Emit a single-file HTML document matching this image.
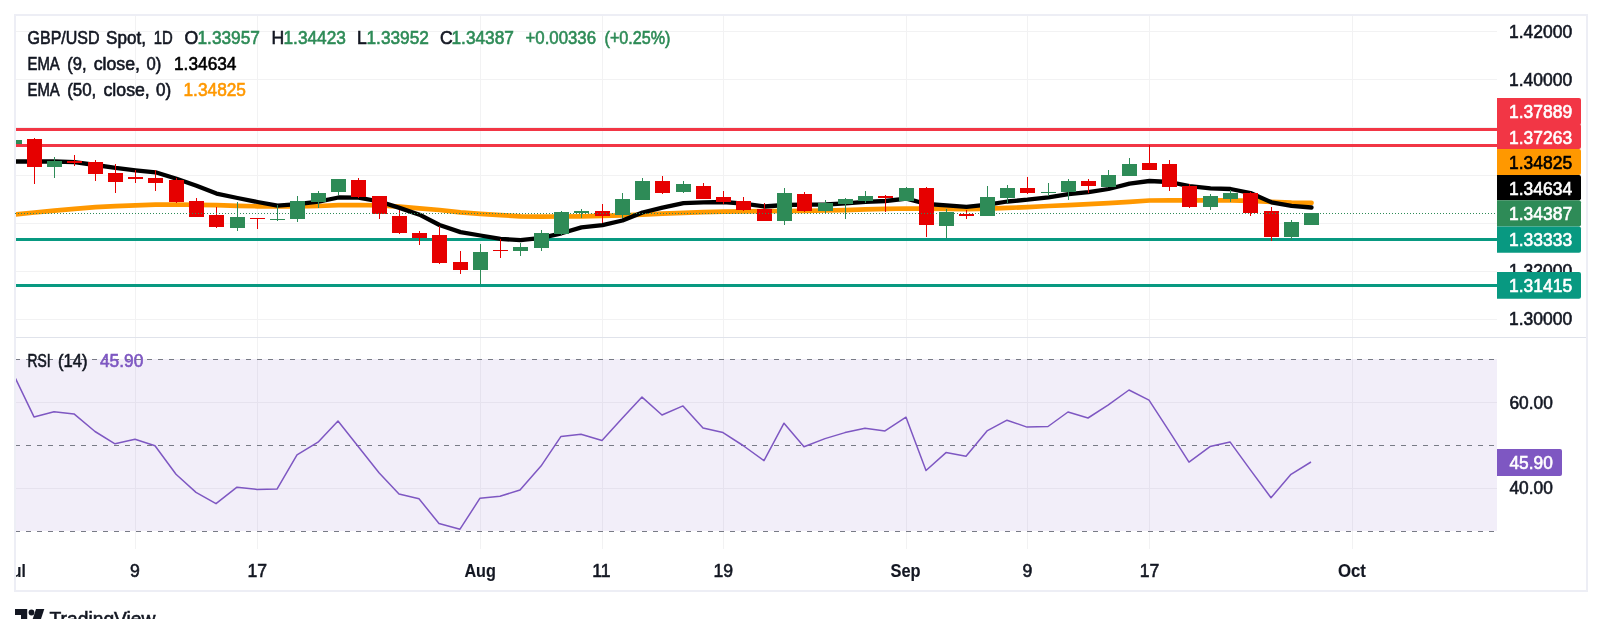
<!DOCTYPE html>
<html><head><meta charset="utf-8"><title>GBP/USD chart</title>
<style>html,body{margin:0;padding:0;background:#fff;overflow:hidden}body{width:1602px;height:619px;font-family:"Liberation Sans",sans-serif}</style></head>
<body>
<svg width="1602" height="619" viewBox="0 0 1602 619" style="display:block;will-change:transform">
<defs><clipPath id="cp"><rect x="16" y="16" width="1481" height="321"/></clipPath><clipPath id="cr"><rect x="16" y="338" width="1481" height="211"/></clipPath></defs>
<rect width="1602" height="619" fill="#fff"/>
<rect x="15" y="15" width="1572" height="576" fill="#fff" stroke="#edeef5" stroke-width="2"/>
<rect x="16" y="337" width="1570" height="1" fill="#e0e3eb"/>
<rect x="16" y="359" width="1481" height="172" fill="#f2eef9"/>
<rect x="135" y="16" width="1" height="321" fill="#f2f2f3"/>
<rect x="135" y="338" width="1" height="211" fill="#e6e2ee"/>
<rect x="135" y="338" width="1" height="21" fill="#f2f2f3"/>
<rect x="135" y="531" width="1" height="18" fill="#f2f2f3"/>
<rect x="257" y="16" width="1" height="321" fill="#f2f2f3"/>
<rect x="257" y="338" width="1" height="211" fill="#e6e2ee"/>
<rect x="257" y="338" width="1" height="21" fill="#f2f2f3"/>
<rect x="257" y="531" width="1" height="18" fill="#f2f2f3"/>
<rect x="480" y="16" width="1" height="321" fill="#f2f2f3"/>
<rect x="480" y="338" width="1" height="211" fill="#e6e2ee"/>
<rect x="480" y="338" width="1" height="21" fill="#f2f2f3"/>
<rect x="480" y="531" width="1" height="18" fill="#f2f2f3"/>
<rect x="602" y="16" width="1" height="321" fill="#f2f2f3"/>
<rect x="602" y="338" width="1" height="211" fill="#e6e2ee"/>
<rect x="602" y="338" width="1" height="21" fill="#f2f2f3"/>
<rect x="602" y="531" width="1" height="18" fill="#f2f2f3"/>
<rect x="723" y="16" width="1" height="321" fill="#f2f2f3"/>
<rect x="723" y="338" width="1" height="211" fill="#e6e2ee"/>
<rect x="723" y="338" width="1" height="21" fill="#f2f2f3"/>
<rect x="723" y="531" width="1" height="18" fill="#f2f2f3"/>
<rect x="906" y="16" width="1" height="321" fill="#f2f2f3"/>
<rect x="906" y="338" width="1" height="211" fill="#e6e2ee"/>
<rect x="906" y="338" width="1" height="21" fill="#f2f2f3"/>
<rect x="906" y="531" width="1" height="18" fill="#f2f2f3"/>
<rect x="1027" y="16" width="1" height="321" fill="#f2f2f3"/>
<rect x="1027" y="338" width="1" height="211" fill="#e6e2ee"/>
<rect x="1027" y="338" width="1" height="21" fill="#f2f2f3"/>
<rect x="1027" y="531" width="1" height="18" fill="#f2f2f3"/>
<rect x="1149" y="16" width="1" height="321" fill="#f2f2f3"/>
<rect x="1149" y="338" width="1" height="211" fill="#e6e2ee"/>
<rect x="1149" y="338" width="1" height="21" fill="#f2f2f3"/>
<rect x="1149" y="531" width="1" height="18" fill="#f2f2f3"/>
<rect x="1352" y="16" width="1" height="321" fill="#f2f2f3"/>
<rect x="1352" y="338" width="1" height="211" fill="#e6e2ee"/>
<rect x="1352" y="338" width="1" height="21" fill="#f2f2f3"/>
<rect x="1352" y="531" width="1" height="18" fill="#f2f2f3"/>
<rect x="16" y="31" width="1481" height="1" fill="#f2f2f3"/>
<rect x="16" y="79" width="1481" height="1" fill="#f2f2f3"/>
<rect x="16" y="127" width="1481" height="1" fill="#f2f2f3"/>
<rect x="16" y="175" width="1481" height="1" fill="#f2f2f3"/>
<rect x="16" y="223" width="1481" height="1" fill="#f2f2f3"/>
<rect x="16" y="271" width="1481" height="1" fill="#f2f2f3"/>
<rect x="16" y="319" width="1481" height="1" fill="#f2f2f3"/>
<rect x="16" y="402" width="1481" height="1" fill="#e6e2ee"/>
<rect x="16" y="488" width="1481" height="1" fill="#e6e2ee"/>
<line clip-path="url(#cr)" x1="15" x2="1497" y1="359.5" y2="359.5" stroke="#787b86" stroke-width="1" stroke-dasharray="5 6" shape-rendering="crispEdges"/>
<line clip-path="url(#cr)" x1="15" x2="1497" y1="445.5" y2="445.5" stroke="#787b86" stroke-width="1" stroke-dasharray="5 6" shape-rendering="crispEdges"/>
<line clip-path="url(#cr)" x1="15" x2="1497" y1="531.5" y2="531.5" stroke="#787b86" stroke-width="1" stroke-dasharray="5 6" shape-rendering="crispEdges"/>
<polyline clip-path="url(#cr)" points="14.0,375.4 34.0,416.9 54.0,411.7 74.0,413.9 95.0,431.5 115.0,443.8 135.0,439.2 155.0,445.7 176.0,474.3 196.0,492.4 216.0,503.7 237.0,487.2 257.0,489.4 277.0,489.1 297.0,454.8 318.0,442.2 338.0,421 358.0,446.3 379.0,472.7 399.0,494.1 419.0,498.8 439.0,523.5 460.0,529.2 480.0,498.2 500.0,496.3 520.0,490 541.0,466.1 561.0,436.4 581.0,434.2 602.0,440.5 622.0,418.6 642.0,397.1 662.0,415 683.0,405.9 703.0,427.9 723.0,432.6 743.0,445.5 764.0,460.6 784.0,423.2 804.0,446.7 825.0,438.6 845.0,432.6 865.0,428.2 885.0,430.9 906.0,417.2 926.0,470.5 946.0,452.6 966.0,456.2 987.0,430.9 1007.0,420.2 1027.0,427.1 1048.0,426.5 1068.0,412 1088.0,418 1108.0,405.1 1129.0,390 1149.0,400.2 1169.0,430.9 1189.0,462.2 1210.0,446.6 1230.0,441.9 1250.0,469.4 1271.0,497.7 1291.0,474.3 1311.0,462" fill="none" stroke="#7e57c2" stroke-width="1.5" stroke-linejoin="round"/>
<g clip-path="url(#cp)">
<rect x="16" y="128" width="1481" height="3" fill="#f23645"/>
<rect x="16" y="144" width="1481" height="3" fill="#f23645"/>
<rect x="16" y="238" width="1481" height="3" fill="#089981"/>
<rect x="16" y="284" width="1481" height="3" fill="#089981"/>
<polyline points="14.5,214.6 34.5,212.5 54.5,210.6 74.5,208.8 95.5,207.1 115.5,206.1 135.5,205.3 155.5,204.7 176.5,204.5 196.5,204.8 216.5,205.2 237.5,205.8 257.5,206.3 277.5,206.5 297.5,206.3 318.5,206 338.5,205.2 358.5,205 379.5,205.4 399.5,206.6 419.5,208.3 439.5,210 460.5,212.4 480.5,213.8 500.5,215.2 520.5,216.3 541.5,216.6 561.5,216.5 581.5,216.3 602.5,215.9 622.5,215.3 642.5,214.6 662.5,213.7 683.5,212.8 703.5,212.2 723.5,211.6 743.5,211.4 764.5,211.2 784.5,211 804.5,210.8 825.5,210.5 845.5,210.1 865.5,209.4 885.5,208.9 906.5,208.5 926.5,208.6 946.5,209 966.5,209.2 987.5,208.7 1007.5,207.9 1027.5,207.1 1048.5,206 1068.5,205.2 1088.5,204.2 1108.5,203.2 1129.5,201.8 1149.5,200.5 1169.5,200.4 1189.5,200.4 1210.5,200.4 1230.5,200.4 1250.5,200.8 1271.5,201.8 1291.5,202.6 1311.5,202.9" fill="none" stroke="#ff9800" stroke-width="4.7" stroke-linejoin="round" stroke-linecap="round"/>
<polyline points="14.5,161.5 34.5,161.5 54.5,161.5 74.5,162.1 95.5,165 115.5,167.9 135.5,170.3 155.5,172.3 176.5,178.8 196.5,185.8 216.5,193.6 237.5,198 257.5,202 277.5,205.7 297.5,204.2 318.5,201.6 338.5,197.5 358.5,197.6 379.5,201.5 399.5,207.9 419.5,214.7 439.5,225 460.5,232.1 480.5,235.5 500.5,238.9 520.5,240.2 541.5,237.8 561.5,233.3 581.5,227.4 602.5,225.2 622.5,220.5 642.5,212.5 662.5,207.6 683.5,203.2 703.5,202.4 723.5,202 743.5,203.6 764.5,206.5 784.5,205 804.5,204.7 825.5,204.5 845.5,203.4 865.5,201.8 885.5,201 906.5,198.7 926.5,204 946.5,205.4 966.5,206.8 987.5,204.6 1007.5,201.5 1027.5,199.7 1048.5,197.3 1068.5,194.2 1088.5,192.2 1108.5,189 1129.5,183.6 1149.5,181 1169.5,182 1189.5,186.2 1210.5,188.4 1230.5,189 1250.5,193 1271.5,202.3 1291.5,205.9 1311.5,207.5" fill="none" stroke="#000" stroke-width="4.3" stroke-linejoin="round" stroke-linecap="round"/>
<rect x="14" y="140" width="1" height="4" fill="#2e8b57"/>
<rect x="7" y="140" width="15" height="4" fill="#2e8b57"/>
<rect x="34" y="138" width="1" height="46" fill="#e60000"/>
<rect x="27" y="139" width="15" height="28" fill="#e60000"/>
<rect x="54" y="157" width="1" height="21" fill="#2e8b57"/>
<rect x="47" y="161" width="15" height="6" fill="#2e8b57"/>
<rect x="74" y="155" width="1" height="11" fill="#e60000"/>
<rect x="67" y="161" width="15" height="2" fill="#e60000"/>
<rect x="95" y="160" width="1" height="21" fill="#e60000"/>
<rect x="88" y="162" width="15" height="12" fill="#e60000"/>
<rect x="115" y="164" width="1" height="29" fill="#e60000"/>
<rect x="108" y="173" width="15" height="9" fill="#e60000"/>
<rect x="135" y="170" width="1" height="13" fill="#e60000"/>
<rect x="128" y="177" width="15" height="2" fill="#e60000"/>
<rect x="155" y="170" width="1" height="21" fill="#e60000"/>
<rect x="148" y="178" width="15" height="5" fill="#e60000"/>
<rect x="176" y="178" width="1" height="25" fill="#e60000"/>
<rect x="169" y="180" width="15" height="22" fill="#e60000"/>
<rect x="196" y="198" width="1" height="19" fill="#e60000"/>
<rect x="189" y="201" width="15" height="16" fill="#e60000"/>
<rect x="216" y="207" width="1" height="21" fill="#e60000"/>
<rect x="209" y="215" width="15" height="12" fill="#e60000"/>
<rect x="237" y="202" width="1" height="29" fill="#2e8b57"/>
<rect x="230" y="217" width="15" height="11" fill="#2e8b57"/>
<rect x="257" y="218" width="1" height="11" fill="#e60000"/>
<rect x="250" y="218" width="15" height="1" fill="#e60000"/>
<rect x="277" y="205" width="1" height="16" fill="#2e8b57"/>
<rect x="270" y="219" width="15" height="1" fill="#2e8b57"/>
<rect x="297" y="196" width="1" height="26" fill="#2e8b57"/>
<rect x="290" y="201" width="15" height="18" fill="#2e8b57"/>
<rect x="318" y="191" width="1" height="17" fill="#2e8b57"/>
<rect x="311" y="193" width="15" height="9" fill="#2e8b57"/>
<rect x="338" y="179" width="1" height="16" fill="#2e8b57"/>
<rect x="331" y="179" width="15" height="13" fill="#2e8b57"/>
<rect x="358" y="178" width="1" height="20" fill="#e60000"/>
<rect x="351" y="180" width="15" height="17" fill="#e60000"/>
<rect x="379" y="196" width="1" height="23" fill="#e60000"/>
<rect x="372" y="196" width="15" height="18" fill="#e60000"/>
<rect x="399" y="210" width="1" height="24" fill="#e60000"/>
<rect x="392" y="216" width="15" height="17" fill="#e60000"/>
<rect x="419" y="231" width="1" height="14" fill="#e60000"/>
<rect x="412" y="233" width="15" height="5" fill="#e60000"/>
<rect x="439" y="226" width="1" height="38" fill="#e60000"/>
<rect x="432" y="235" width="15" height="28" fill="#e60000"/>
<rect x="460" y="251" width="1" height="23" fill="#e60000"/>
<rect x="453" y="262" width="15" height="8" fill="#e60000"/>
<rect x="480" y="244" width="1" height="40" fill="#2e8b57"/>
<rect x="473" y="252" width="15" height="18" fill="#2e8b57"/>
<rect x="500" y="239" width="1" height="19" fill="#e60000"/>
<rect x="493" y="250" width="15" height="1" fill="#e60000"/>
<rect x="520" y="243" width="1" height="13" fill="#2e8b57"/>
<rect x="513" y="247" width="15" height="4" fill="#2e8b57"/>
<rect x="541" y="230" width="1" height="21" fill="#2e8b57"/>
<rect x="534" y="233" width="15" height="15" fill="#2e8b57"/>
<rect x="561" y="211" width="1" height="24" fill="#2e8b57"/>
<rect x="554" y="212" width="15" height="22" fill="#2e8b57"/>
<rect x="581" y="209" width="1" height="9" fill="#2e8b57"/>
<rect x="574" y="211" width="15" height="2" fill="#2e8b57"/>
<rect x="602" y="204" width="1" height="19" fill="#e60000"/>
<rect x="595" y="211" width="15" height="5" fill="#e60000"/>
<rect x="622" y="193" width="1" height="25" fill="#2e8b57"/>
<rect x="615" y="199" width="15" height="16" fill="#2e8b57"/>
<rect x="642" y="178" width="1" height="22" fill="#2e8b57"/>
<rect x="635" y="181" width="15" height="19" fill="#2e8b57"/>
<rect x="662" y="176" width="1" height="18" fill="#e60000"/>
<rect x="655" y="181" width="15" height="12" fill="#e60000"/>
<rect x="683" y="181" width="1" height="12" fill="#2e8b57"/>
<rect x="676" y="184" width="15" height="8" fill="#2e8b57"/>
<rect x="703" y="183" width="1" height="16" fill="#e60000"/>
<rect x="696" y="186" width="15" height="13" fill="#e60000"/>
<rect x="723" y="191" width="1" height="13" fill="#e60000"/>
<rect x="716" y="197" width="15" height="5" fill="#e60000"/>
<rect x="743" y="197" width="1" height="14" fill="#e60000"/>
<rect x="736" y="201" width="15" height="9" fill="#e60000"/>
<rect x="764" y="203" width="1" height="18" fill="#e60000"/>
<rect x="757" y="209" width="15" height="12" fill="#e60000"/>
<rect x="784" y="188" width="1" height="37" fill="#2e8b57"/>
<rect x="777" y="193" width="15" height="28" fill="#2e8b57"/>
<rect x="804" y="192" width="1" height="20" fill="#e60000"/>
<rect x="797" y="194" width="15" height="17" fill="#e60000"/>
<rect x="825" y="200" width="1" height="13" fill="#2e8b57"/>
<rect x="818" y="203" width="15" height="8" fill="#2e8b57"/>
<rect x="845" y="198" width="1" height="21" fill="#2e8b57"/>
<rect x="838" y="199" width="15" height="5" fill="#2e8b57"/>
<rect x="865" y="191" width="1" height="12" fill="#2e8b57"/>
<rect x="858" y="196" width="15" height="5" fill="#2e8b57"/>
<rect x="885" y="195" width="1" height="17" fill="#e60000"/>
<rect x="878" y="196" width="15" height="2" fill="#e60000"/>
<rect x="906" y="187" width="1" height="14" fill="#2e8b57"/>
<rect x="899" y="188" width="15" height="13" fill="#2e8b57"/>
<rect x="926" y="187" width="1" height="50" fill="#e60000"/>
<rect x="919" y="188" width="15" height="37" fill="#e60000"/>
<rect x="946" y="209" width="1" height="29" fill="#2e8b57"/>
<rect x="939" y="212" width="15" height="14" fill="#2e8b57"/>
<rect x="966" y="210" width="1" height="9" fill="#e60000"/>
<rect x="959" y="214" width="15" height="2" fill="#e60000"/>
<rect x="987" y="186" width="1" height="30" fill="#2e8b57"/>
<rect x="980" y="197" width="15" height="19" fill="#2e8b57"/>
<rect x="1007" y="185" width="1" height="18" fill="#2e8b57"/>
<rect x="1000" y="188" width="15" height="10" fill="#2e8b57"/>
<rect x="1027" y="177" width="1" height="17" fill="#e60000"/>
<rect x="1020" y="188" width="15" height="5" fill="#e60000"/>
<rect x="1048" y="183" width="1" height="13" fill="#2e8b57"/>
<rect x="1041" y="192" width="15" height="1" fill="#2e8b57"/>
<rect x="1068" y="179" width="1" height="21" fill="#2e8b57"/>
<rect x="1061" y="181" width="15" height="11" fill="#2e8b57"/>
<rect x="1088" y="179" width="1" height="14" fill="#e60000"/>
<rect x="1081" y="181" width="15" height="5" fill="#e60000"/>
<rect x="1108" y="170" width="1" height="17" fill="#2e8b57"/>
<rect x="1101" y="175" width="15" height="12" fill="#2e8b57"/>
<rect x="1129" y="158" width="1" height="18" fill="#2e8b57"/>
<rect x="1122" y="164" width="15" height="12" fill="#2e8b57"/>
<rect x="1149" y="145" width="1" height="25" fill="#e60000"/>
<rect x="1142" y="163" width="15" height="7" fill="#e60000"/>
<rect x="1169" y="160" width="1" height="31" fill="#e60000"/>
<rect x="1162" y="164" width="15" height="23" fill="#e60000"/>
<rect x="1189" y="184" width="1" height="24" fill="#e60000"/>
<rect x="1182" y="186" width="15" height="21" fill="#e60000"/>
<rect x="1210" y="194" width="1" height="16" fill="#2e8b57"/>
<rect x="1203" y="196" width="15" height="11" fill="#2e8b57"/>
<rect x="1230" y="190" width="1" height="12" fill="#2e8b57"/>
<rect x="1223" y="193" width="15" height="6" fill="#2e8b57"/>
<rect x="1250" y="192" width="1" height="24" fill="#e60000"/>
<rect x="1243" y="193" width="15" height="20" fill="#e60000"/>
<rect x="1271" y="207" width="1" height="34" fill="#e60000"/>
<rect x="1264" y="211" width="15" height="26" fill="#e60000"/>
<rect x="1291" y="220" width="1" height="20" fill="#2e8b57"/>
<rect x="1284" y="222" width="15" height="15" fill="#2e8b57"/>
<rect x="1311" y="213" width="1" height="12" fill="#2e8b57"/>
<rect x="1304" y="213" width="15" height="12" fill="#2e8b57"/>
</g>
<line x1="15" x2="1497" y1="213.5" y2="213.5" stroke="#2e8b57" stroke-width="1" stroke-dasharray="1 2" shape-rendering="crispEdges"/>
<text x="27.5" y="43.8" font-family="Liberation Sans, sans-serif" font-size="17.6" font-weight="normal" fill="#131722" stroke="#131722" stroke-width="0.6" text-anchor="start" textLength="72.1" lengthAdjust="spacingAndGlyphs">GBP/USD</text>
<text x="106.1" y="43.8" font-family="Liberation Sans, sans-serif" font-size="17.6" font-weight="normal" fill="#131722" stroke="#131722" stroke-width="0.6" text-anchor="start" textLength="39.8" lengthAdjust="spacingAndGlyphs">Spot,</text>
<text x="153.8" y="43.8" font-family="Liberation Sans, sans-serif" font-size="17.6" font-weight="normal" fill="#131722" stroke="#131722" stroke-width="0.6" text-anchor="start" textLength="19" lengthAdjust="spacingAndGlyphs">1D</text>
<text x="184.5" y="43.8" font-family="Liberation Sans, sans-serif" font-size="17.6" font-weight="normal" fill="#131722" stroke="#131722" stroke-width="0.6" text-anchor="start">O</text>
<text x="197.5" y="43.8" font-family="Liberation Sans, sans-serif" font-size="17.6" font-weight="normal" fill="#2e8b57" stroke="#2e8b57" stroke-width="0.6" text-anchor="start" textLength="62.4" lengthAdjust="spacingAndGlyphs">1.33957</text>
<text x="271.5" y="43.8" font-family="Liberation Sans, sans-serif" font-size="17.6" font-weight="normal" fill="#131722" stroke="#131722" stroke-width="0.6" text-anchor="start">H</text>
<text x="283.5" y="43.8" font-family="Liberation Sans, sans-serif" font-size="17.6" font-weight="normal" fill="#2e8b57" stroke="#2e8b57" stroke-width="0.6" text-anchor="start" textLength="62.4" lengthAdjust="spacingAndGlyphs">1.34423</text>
<text x="357" y="43.8" font-family="Liberation Sans, sans-serif" font-size="17.6" font-weight="normal" fill="#131722" stroke="#131722" stroke-width="0.6" text-anchor="start">L</text>
<text x="366.5" y="43.8" font-family="Liberation Sans, sans-serif" font-size="17.6" font-weight="normal" fill="#2e8b57" stroke="#2e8b57" stroke-width="0.6" text-anchor="start" textLength="62.4" lengthAdjust="spacingAndGlyphs">1.33952</text>
<text x="440" y="43.8" font-family="Liberation Sans, sans-serif" font-size="17.6" font-weight="normal" fill="#131722" stroke="#131722" stroke-width="0.6" text-anchor="start">C</text>
<text x="451.5" y="43.8" font-family="Liberation Sans, sans-serif" font-size="17.6" font-weight="normal" fill="#2e8b57" stroke="#2e8b57" stroke-width="0.6" text-anchor="start" textLength="62.4" lengthAdjust="spacingAndGlyphs">1.34387</text>
<text x="525.5" y="43.8" font-family="Liberation Sans, sans-serif" font-size="17.6" font-weight="normal" fill="#2e8b57" stroke="#2e8b57" stroke-width="0.6" text-anchor="start" textLength="70.5" lengthAdjust="spacingAndGlyphs">+0.00336</text>
<text x="604.5" y="43.8" font-family="Liberation Sans, sans-serif" font-size="17.6" font-weight="normal" fill="#2e8b57" stroke="#2e8b57" stroke-width="0.6" text-anchor="start" textLength="66" lengthAdjust="spacingAndGlyphs">(+0.25%)</text>
<text x="27.5" y="69.5" font-family="Liberation Sans, sans-serif" font-size="17.6" font-weight="normal" fill="#131722" stroke="#131722" stroke-width="0.6" text-anchor="start" textLength="32.3" lengthAdjust="spacingAndGlyphs">EMA</text>
<text x="67.2" y="69.5" font-family="Liberation Sans, sans-serif" font-size="17.6" font-weight="normal" fill="#131722" stroke="#131722" stroke-width="0.6" text-anchor="start" textLength="19.3" lengthAdjust="spacingAndGlyphs">(9,</text>
<text x="93.7" y="69.5" font-family="Liberation Sans, sans-serif" font-size="17.6" font-weight="normal" fill="#131722" stroke="#131722" stroke-width="0.6" text-anchor="start" textLength="46.3" lengthAdjust="spacingAndGlyphs">close,</text>
<text x="146.6" y="69.5" font-family="Liberation Sans, sans-serif" font-size="17.6" font-weight="normal" fill="#131722" stroke="#131722" stroke-width="0.6" text-anchor="start" textLength="14.8" lengthAdjust="spacingAndGlyphs">0)</text>
<text x="174" y="69.5" font-family="Liberation Sans, sans-serif" font-size="17.6" font-weight="normal" fill="#000" stroke="#000" stroke-width="0.6" text-anchor="start" textLength="62.5" lengthAdjust="spacingAndGlyphs">1.34634</text>
<text x="27.5" y="95.5" font-family="Liberation Sans, sans-serif" font-size="17.6" font-weight="normal" fill="#131722" stroke="#131722" stroke-width="0.6" text-anchor="start" textLength="32.3" lengthAdjust="spacingAndGlyphs">EMA</text>
<text x="67.2" y="95.5" font-family="Liberation Sans, sans-serif" font-size="17.6" font-weight="normal" fill="#131722" stroke="#131722" stroke-width="0.6" text-anchor="start" textLength="29.1" lengthAdjust="spacingAndGlyphs">(50,</text>
<text x="103.5" y="95.5" font-family="Liberation Sans, sans-serif" font-size="17.6" font-weight="normal" fill="#131722" stroke="#131722" stroke-width="0.6" text-anchor="start" textLength="46.3" lengthAdjust="spacingAndGlyphs">close,</text>
<text x="156" y="95.5" font-family="Liberation Sans, sans-serif" font-size="17.6" font-weight="normal" fill="#131722" stroke="#131722" stroke-width="0.6" text-anchor="start" textLength="15.2" lengthAdjust="spacingAndGlyphs">0)</text>
<text x="183.5" y="95.5" font-family="Liberation Sans, sans-serif" font-size="17.6" font-weight="normal" fill="#ff9800" stroke="#ff9800" stroke-width="0.6" text-anchor="start" textLength="62.5" lengthAdjust="spacingAndGlyphs">1.34825</text>
<text x="27.5" y="366.8" font-family="Liberation Sans, sans-serif" font-size="17.6" font-weight="normal" fill="#131722" stroke="#131722" stroke-width="0.6" text-anchor="start" textLength="23.1" lengthAdjust="spacingAndGlyphs">RSI</text>
<text x="58" y="366.8" font-family="Liberation Sans, sans-serif" font-size="17.6" font-weight="normal" fill="#131722" stroke="#131722" stroke-width="0.6" text-anchor="start" textLength="29.4" lengthAdjust="spacingAndGlyphs">(14)</text>
<text x="100" y="366.8" font-family="Liberation Sans, sans-serif" font-size="17.6" font-weight="normal" fill="#7e57c2" stroke="#7e57c2" stroke-width="0.6" text-anchor="start" textLength="43.3" lengthAdjust="spacingAndGlyphs">45.90</text>
<text x="1509" y="37.8" font-family="Liberation Sans, sans-serif" font-size="17.6" font-weight="normal" fill="#131722" stroke="#131722" stroke-width="0.6" text-anchor="start" textLength="63.1" lengthAdjust="spacingAndGlyphs">1.42000</text>
<text x="1509" y="85.64999999999999" font-family="Liberation Sans, sans-serif" font-size="17.6" font-weight="normal" fill="#131722" stroke="#131722" stroke-width="0.6" text-anchor="start" textLength="63.1" lengthAdjust="spacingAndGlyphs">1.40000</text>
<text x="1509" y="277.05" font-family="Liberation Sans, sans-serif" font-size="17.6" font-weight="normal" fill="#131722" stroke="#131722" stroke-width="0.6" text-anchor="start" textLength="63.1" lengthAdjust="spacingAndGlyphs">1.32000</text>
<text x="1509" y="324.90000000000003" font-family="Liberation Sans, sans-serif" font-size="17.6" font-weight="normal" fill="#131722" stroke="#131722" stroke-width="0.6" text-anchor="start" textLength="63.1" lengthAdjust="spacingAndGlyphs">1.30000</text>
<path d="M1497 98H1579a2 2 0 0 1 2 2V123a2 2 0 0 1 -2 2H1497Z" fill="#f23645"/>
<text x="1509" y="117.8" font-family="Liberation Sans, sans-serif" font-size="17.6" font-weight="normal" fill="#fff" stroke="#fff" stroke-width="0.6" text-anchor="start" textLength="63.1" lengthAdjust="spacingAndGlyphs">1.37889</text>
<path d="M1497 124H1579a2 2 0 0 1 2 2V147a2 2 0 0 1 -2 2H1497Z" fill="#f23645"/>
<text x="1509" y="143.9" font-family="Liberation Sans, sans-serif" font-size="17.6" font-weight="normal" fill="#fff" stroke="#fff" stroke-width="0.6" text-anchor="start" textLength="63.1" lengthAdjust="spacingAndGlyphs">1.37263</text>
<path d="M1497 149H1579a2 2 0 0 1 2 2V173a2 2 0 0 1 -2 2H1497Z" fill="#ff9800"/>
<text x="1509" y="169.20000000000002" font-family="Liberation Sans, sans-serif" font-size="17.6" font-weight="normal" fill="#000" stroke="#000" stroke-width="0.6" text-anchor="start" textLength="63.1" lengthAdjust="spacingAndGlyphs">1.34825</text>
<path d="M1497 175H1579a2 2 0 0 1 2 2V198.3a2 2 0 0 1 -2 2H1497Z" fill="#000"/>
<text x="1509" y="194.9" font-family="Liberation Sans, sans-serif" font-size="17.6" font-weight="normal" fill="#fff" stroke="#fff" stroke-width="0.6" text-anchor="start" textLength="63.1" lengthAdjust="spacingAndGlyphs">1.34634</text>
<path d="M1497 200.3H1579a2 2 0 0 1 2 2V224.5a2 2 0 0 1 -2 2H1497Z" fill="#2e8b57"/>
<text x="1509" y="219.8" font-family="Liberation Sans, sans-serif" font-size="17.6" font-weight="normal" fill="#fff" stroke="#fff" stroke-width="0.6" text-anchor="start" textLength="63.1" lengthAdjust="spacingAndGlyphs">1.34387</text>
<path d="M1497 226.5H1579a2 2 0 0 1 2 2V250.7a2 2 0 0 1 -2 2H1497Z" fill="#089981"/>
<text x="1509" y="245.9" font-family="Liberation Sans, sans-serif" font-size="17.6" font-weight="normal" fill="#fff" stroke="#fff" stroke-width="0.6" text-anchor="start" textLength="63.1" lengthAdjust="spacingAndGlyphs">1.33333</text>
<path d="M1497 272H1579a2 2 0 0 1 2 2V296.8a2 2 0 0 1 -2 2H1497Z" fill="#089981"/>
<text x="1509" y="291.6" font-family="Liberation Sans, sans-serif" font-size="17.6" font-weight="normal" fill="#fff" stroke="#fff" stroke-width="0.6" text-anchor="start" textLength="63.1" lengthAdjust="spacingAndGlyphs">1.31415</text>
<text x="1509.5" y="408.5" font-family="Liberation Sans, sans-serif" font-size="17.6" font-weight="normal" fill="#131722" stroke="#131722" stroke-width="0.6" text-anchor="start" textLength="43.3" lengthAdjust="spacingAndGlyphs">60.00</text>
<text x="1509.5" y="494" font-family="Liberation Sans, sans-serif" font-size="17.6" font-weight="normal" fill="#131722" stroke="#131722" stroke-width="0.6" text-anchor="start" textLength="43.3" lengthAdjust="spacingAndGlyphs">40.00</text>
<path d="M1497 449H1560a2 2 0 0 1 2 2V474a2 2 0 0 1 -2 2H1497Z" fill="#7e57c2"/>
<text x="1509.5" y="468.5" font-family="Liberation Sans, sans-serif" font-size="17.6" font-weight="normal" fill="#fff" stroke="#fff" stroke-width="0.6" text-anchor="start" textLength="43.3" lengthAdjust="spacingAndGlyphs">45.90</text>
<clipPath id="ct"><rect x="16" y="549" width="1570" height="41"/></clipPath>
<g clip-path="url(#ct)">
<text x="3.3" y="577.3" font-family="Liberation Sans, sans-serif" font-size="17.6" font-weight="bold" fill="#131722" stroke="#131722" stroke-width="0.15" text-anchor="start" textLength="22.4" lengthAdjust="spacingAndGlyphs">Jul</text>
</g>
<text x="135" y="577.3" font-family="Liberation Sans, sans-serif" font-size="17.6" font-weight="normal" fill="#131722" stroke="#131722" stroke-width="0.6" text-anchor="middle">9</text>
<text x="257.3" y="577.3" font-family="Liberation Sans, sans-serif" font-size="17.6" font-weight="normal" fill="#131722" stroke="#131722" stroke-width="0.6" text-anchor="middle">17</text>
<text x="464.4" y="577.3" font-family="Liberation Sans, sans-serif" font-size="17.6" font-weight="bold" fill="#131722" stroke="#131722" stroke-width="0.15" text-anchor="start" textLength="31.5" lengthAdjust="spacingAndGlyphs">Aug</text>
<text x="601.3" y="577.3" font-family="Liberation Sans, sans-serif" font-size="17.6" font-weight="normal" fill="#131722" stroke="#131722" stroke-width="0.6" text-anchor="middle">11</text>
<text x="723.3" y="577.3" font-family="Liberation Sans, sans-serif" font-size="17.6" font-weight="normal" fill="#131722" stroke="#131722" stroke-width="0.6" text-anchor="middle">19</text>
<text x="890.6" y="577.3" font-family="Liberation Sans, sans-serif" font-size="17.6" font-weight="bold" fill="#131722" stroke="#131722" stroke-width="0.15" text-anchor="start" textLength="30" lengthAdjust="spacingAndGlyphs">Sep</text>
<text x="1027.5" y="577.3" font-family="Liberation Sans, sans-serif" font-size="17.6" font-weight="normal" fill="#131722" stroke="#131722" stroke-width="0.6" text-anchor="middle">9</text>
<text x="1149.5" y="577.3" font-family="Liberation Sans, sans-serif" font-size="17.6" font-weight="normal" fill="#131722" stroke="#131722" stroke-width="0.6" text-anchor="middle">17</text>
<text x="1337.9" y="577.3" font-family="Liberation Sans, sans-serif" font-size="17.6" font-weight="bold" fill="#131722" stroke="#131722" stroke-width="0.15" text-anchor="start" textLength="28" lengthAdjust="spacingAndGlyphs">Oct</text>
<g fill="#131722">
<path d="M15 609H27.2V625H21V615H15Z"/>
<circle cx="31.5" cy="612.5" r="2.9"/>
<path d="M36 609H44.3L39 625H30.7Z"/>
</g>
<text x="49.5" y="626" font-family="Liberation Sans, sans-serif" font-size="19.5" font-weight="normal" fill="#131722" stroke="#131722" stroke-width="0.6" text-anchor="start" textLength="106" lengthAdjust="spacingAndGlyphs">TradingView</text>
</svg>
</body></html>
